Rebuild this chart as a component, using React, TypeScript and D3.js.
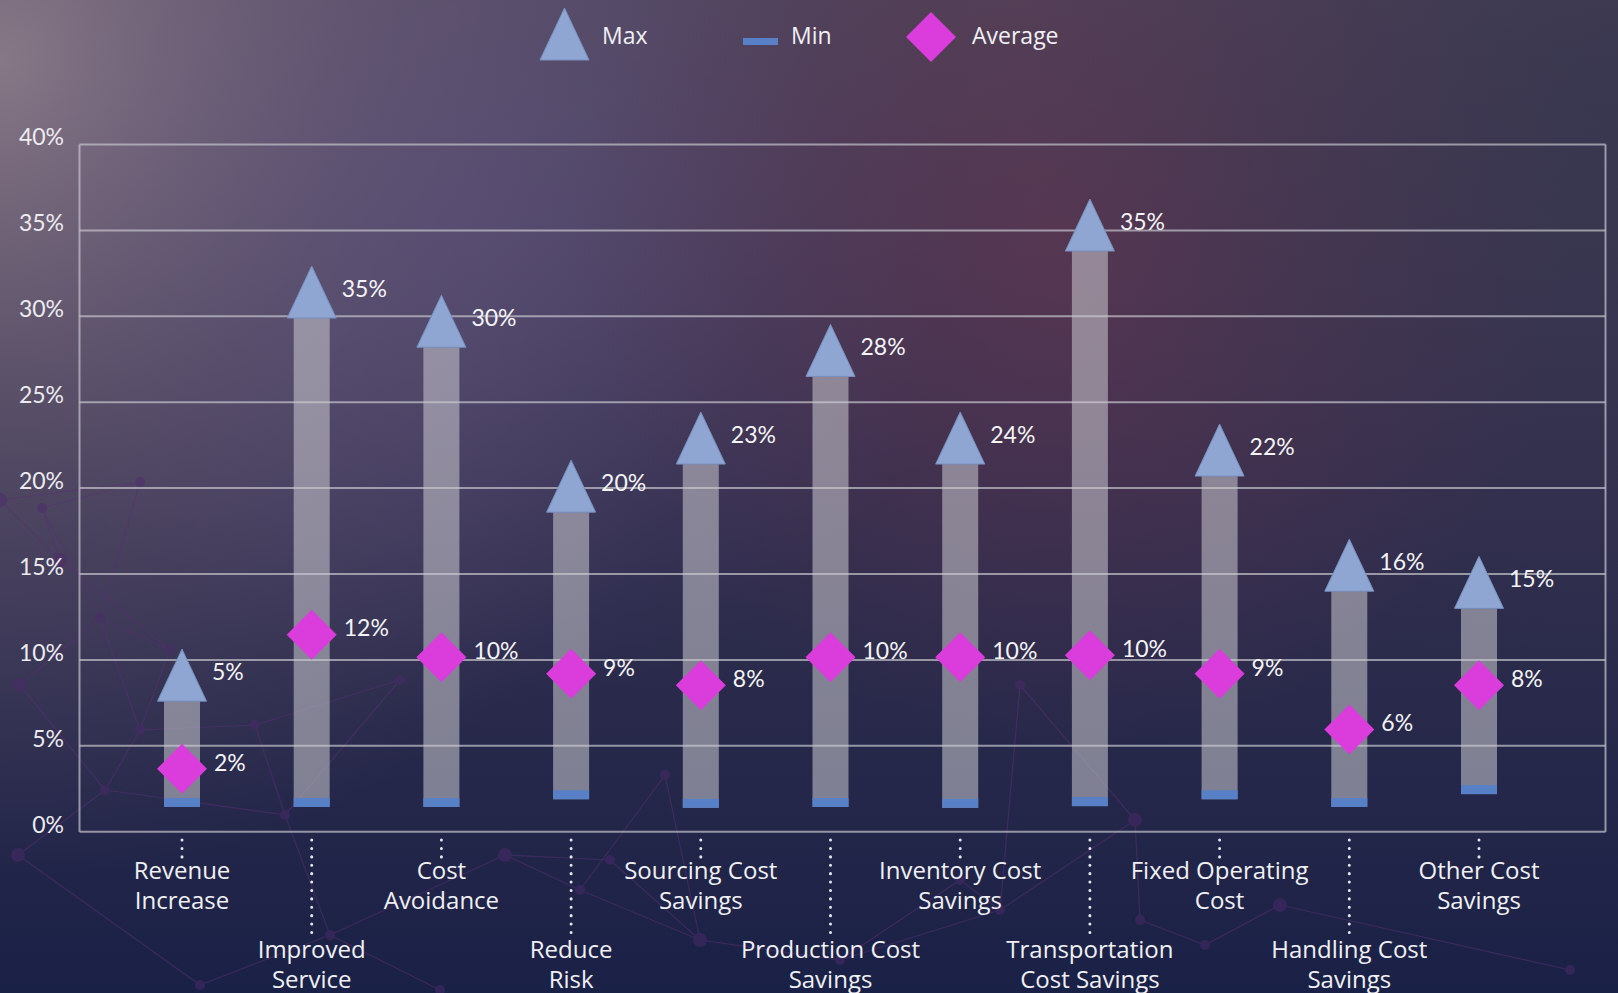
import React, { useEffect } from 'react';
import * as d3 from 'd3';

// categories (two-line labels) and the values
const categories = [
  ['Revenue', 'Increase'],
  ['Improved', 'Service'],
  ['Cost', 'Avoidance'],
  ['Reduce', 'Risk'],
  ['Sourcing Cost', 'Savings'],
  ['Production Cost', 'Savings'],
  ['Inventory Cost', 'Savings'],
  ['Transportation', 'Cost Savings'],
  ['Fixed Operating', 'Cost'],
  ['Handling Cost', 'Savings'],
  ['Other Cost', 'Savings'],
];
// where the bar tops sit on the axis
const maxValues = [7.6, 29.9, 28.2, 18.6, 21.4, 26.5, 21.4, 33.8, 20.7, 14.0, 13.0];
const maxLabels = [5, 35, 30, 20, 23, 28, 24, 35, 22, 16, 15];
const minValues = [1.7, 1.7, 1.7, 2.15, 1.65, 1.7, 1.65, 1.75, 2.15, 1.7, 2.45];
const avgValues = [3.66, 11.47, 10.15, 9.19, 8.53, 10.15, 10.15, 10.27, 9.19, 5.95, 8.53];
const avgLabels = [2, 12, 10, 9, 8, 10, 10, 10, 9, 6, 8];
const yTicks = [0, 5, 10, 15, 20, 25, 30, 35, 40];

// background decoration (network pattern), not data
const netNodes: [number, number][] = [
  [0, 500], [140, 482], [42, 508], [100, 618], [20, 685], [140, 730], [105, 790], [255, 725],
  [18, 855], [285, 815], [400, 680], [330, 935], [505, 855], [200, 985], [580, 890], [665, 775],
  [700, 940], [610, 860], [840, 960], [1020, 685], [1135, 820], [1000, 910], [1140, 920], [1205, 945],
  [1280, 905], [960, 880], [1570, 970], [440, 990], [60, 560], [170, 650],
];
const netEdges: [number, number][] = [
  [0, 1], [1, 2], [2, 3], [3, 4], [3, 5], [4, 6], [5, 6], [5, 7], [7, 9], [6, 9], [6, 8],
  [9, 11], [9, 10], [10, 7], [11, 12], [12, 14], [12, 17], [14, 15], [15, 16], [14, 16], [13, 11],
  [16, 18], [18, 21], [21, 19], [21, 20], [20, 22], [22, 23], [23, 24], [25, 21], [25, 18], [24, 26],
  [11, 27], [1, 3], [8, 13], [19, 20], [17, 16], [28, 2], [28, 29], [29, 5], [29, 3], [0, 28],
];

const W = 1618;
const H = 993;
const left = 79.5;
const right = 1605.5;
const yTop = 144.5;
const yBottom = 831.7;

const barW = 36;
const triW = 49;
const triH = 52;
const dia = 25;
const minH = 9;

const labelFont = 'Lato, "Open Sans", sans-serif';
const textFont = '"Open Sans", "Noto Sans", sans-serif';

export default function App() {
  useEffect(() => {
    document.body.style.margin = '0';
    document.body.style.overflow = 'hidden';
  }, []);

  const idx = categories.map((_, i) => String(i));
  const x = d3.scalePoint<string>().domain(idx).range([182, 1479]);
  const y = d3.scaleLinear().domain([0, 40]).range([yBottom, yTop]);

  const tri = (cx: number, base: number) =>
    d3.line()([[cx - triW / 2, base], [cx, base - triH], [cx + triW / 2, base]]) + 'Z';
  const diamond = (cx: number, cy: number, r: number) =>
    d3.line()([[cx, cy - r], [cx + r, cy], [cx, cy + r], [cx - r, cy]]) + 'Z';

  return (
    <svg width={W} height={H} style={{ display: 'block' }}>
      <defs>
        <linearGradient id="bg" x1="0" y1="0" x2="0" y2="1">
          <stop offset="0" stopColor="#4a4258" />
          <stop offset="0.45" stopColor="#35314f" />
          <stop offset="1" stopColor="#1a2146" />
        </linearGradient>
        <radialGradient id="glowTL" cx="0" cy="60" r="820" gradientUnits="userSpaceOnUse">
          <stop offset="0" stopColor="#8e7e8c" stopOpacity="0.9" />
          <stop offset="0.45" stopColor="#74667a" stopOpacity="0.5" />
          <stop offset="1" stopColor="#6a5a78" stopOpacity="0" />
        </radialGradient>
        <radialGradient id="glowP" cx="480" cy="230" r="480" gradientUnits="userSpaceOnUse">
          <stop offset="0" stopColor="#62558a" stopOpacity="0.4" />
          <stop offset="1" stopColor="#62558a" stopOpacity="0" />
        </radialGradient>
        <radialGradient id="glowR" cx="1070" cy="250" r="500" gradientUnits="userSpaceOnUse">
          <stop offset="0" stopColor="#6e3450" stopOpacity="0.5" />
          <stop offset="1" stopColor="#6e3450" stopOpacity="0" />
        </radialGradient>
        <radialGradient id="darkTR" cx="1618" cy="80" r="600" gradientUnits="userSpaceOnUse">
          <stop offset="0" stopColor="#30324a" stopOpacity="0.6" />
          <stop offset="1" stopColor="#30324a" stopOpacity="0" />
        </radialGradient>
      </defs>

      <rect width={W} height={H} fill="url(#bg)" />
      <rect width={W} height={H} fill="url(#glowTL)" />
      <rect width={W} height={H} fill="url(#glowP)" />
      <rect width={W} height={H} fill="url(#glowR)" />
      <rect width={W} height={H} fill="url(#darkTR)" />

      {/* decorative network */}
      <g opacity={0.5}>
        {netEdges.map(([a, b], i) => (
          <line key={i} x1={netNodes[a][0]} y1={netNodes[a][1]} x2={netNodes[b][0]} y2={netNodes[b][1]}
            stroke="#5b2f78" strokeWidth={1.2} />
        ))}
        {netNodes.map(([nx, ny], i) => (
          <circle key={i} cx={nx} cy={ny} r={i % 4 === 0 ? 7 : 5} fill="#4d2a6c" />
        ))}
      </g>

      {/* grid + frame */}
      <g stroke="#c4c4cc" strokeOpacity={0.7} strokeWidth={2} fill="none">
        {yTicks.map(t => (
          <line key={t} x1={left} x2={right} y1={y(t)} y2={y(t)} />
        ))}
        <line x1={left} x2={left} y1={yTop} y2={yBottom} />
        <line x1={right} x2={right} y1={yTop} y2={yBottom} />
      </g>

      {/* y axis labels */}
      <g fontFamily={labelFont} fontSize={23} fill="#ecebf0" textAnchor="end">
        {yTicks.map(t => (
          <text key={t} x={64} y={y(t) - 5} dominantBaseline="middle">{t}%</text>
        ))}
      </g>

      {/* bars */}
      {idx.map((k, i) => {
        const cx = x(k) as number;
        const top = y(maxValues[i]);
        const minY = y(minValues[i]);
        return (
          <g key={k}>
            <rect x={cx - barW / 2} y={top} width={barW} height={minY + minH / 2 - top}
              fill="#cacad0" fillOpacity={0.55} />
            <rect x={cx - barW / 2} y={minY - minH / 2} width={barW} height={minH} fill="#5780c6" />
            <path d={tri(cx, top)} fill="#8fa6d3" stroke="#7890c0" strokeWidth={1} />
            <path d={diamond(cx, y(avgValues[i]), dia)} fill="#db3ddd" />
            <text x={cx + 30} y={top - 27} dominantBaseline="middle" fontFamily={labelFont}
              fontSize={23} fill="#f4f4f6">{maxLabels[i]}%</text>
            <text x={cx + 32} y={y(avgValues[i]) - 4} dominantBaseline="middle" fontFamily={labelFont}
              fontSize={23} fill="#f4f4f6">{avgLabels[i]}%</text>
          </g>
        );
      })}

      {/* x axis labels with dotted leaders */}
      {idx.map((k, i) => {
        const cx = x(k) as number;
        const low = i % 2 === 1;
        const l1 = low ? 952 : 873;
        return (
          <g key={'x' + k}>
            <line x1={cx} x2={cx} y1={840} y2={low ? 934 : 858} stroke="#e6e6ee"
              strokeWidth={3} strokeLinecap="round" strokeDasharray="0.1 8.3" />
            <text x={cx} textAnchor="middle" fontFamily={textFont} fontSize={24} fill="#f0f0f4">
              <tspan x={cx} y={l1} dominantBaseline="middle">{categories[i][0]}</tspan>
              <tspan x={cx} y={l1 + 30} dominantBaseline="middle">{categories[i][1]}</tspan>
            </text>
          </g>
        );
      })}

      {/* legend */}
      <g fontFamily={textFont} fontSize={23} fill="#f0f0f4">
        <path d={tri(564.5, 60)} fill="#8fa6d3" stroke="#7890c0" strokeWidth={1} />
        <text x={602} y={38} dominantBaseline="middle">Max</text>
        <rect x={743} y={38} width={35} height={7} fill="#5780c6" />
        <text x={791} y={38} dominantBaseline="middle">Min</text>
        <path d={diamond(931, 37, 25)} fill="#db3ddd" />
        <text x={972} y={38} dominantBaseline="middle">Average</text>
      </g>
    </svg>
  );
}
